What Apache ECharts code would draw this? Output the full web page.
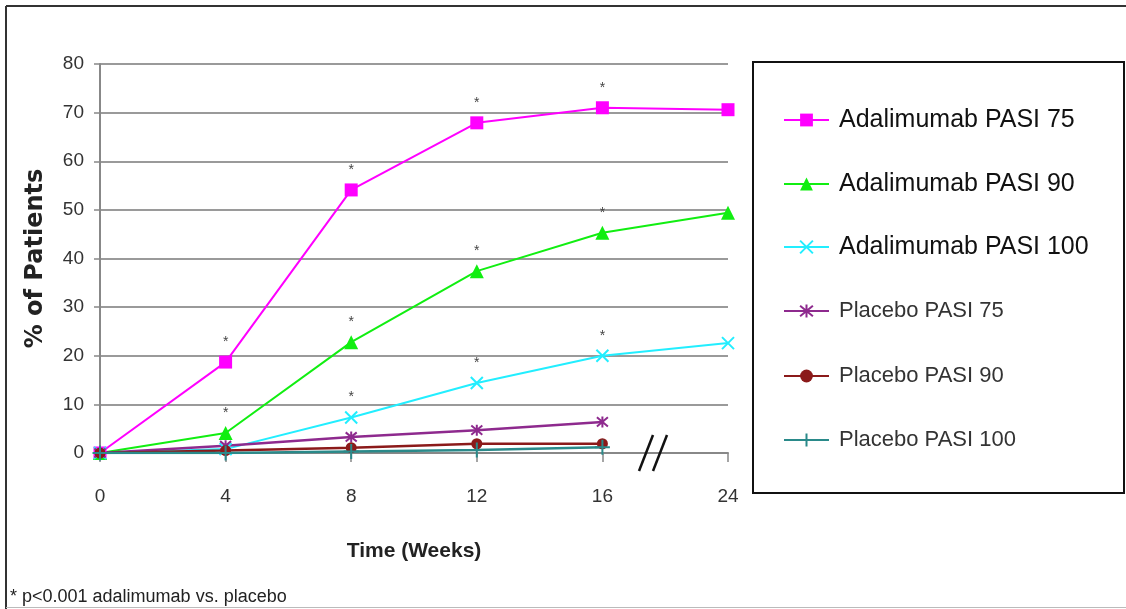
<!DOCTYPE html>
<html>
<head>
<meta charset="utf-8">
<script src="https://cdn.jsdelivr.net/npm/echarts@6/dist/echarts.min.js"></script>
<style>html,body{margin:0;padding:0;background:#fff;}#chart{width:1126px;height:609px;}</style>
</head>
<body>
<div id="chart"></div>
<script>
const categories = ['0', '4', '8', '12', '16', '24'];
const yTicks = [0, 10, 20, 30, 40, 50, 60, 70, 80];
const seriesNames = ['Adalimumab PASI 75', 'Adalimumab PASI 90', 'Adalimumab PASI 100',
                     'Placebo PASI 75', 'Placebo PASI 90', 'Placebo PASI 100'];
const adaPasi75  = [0, 18.7, 54.1, 67.9, 71.0, 70.6];
const adaPasi90  = [0, 4.1, 22.8, 37.4, 45.3, 49.4];
const adaPasi100 = [0, 0.8, 7.3, 14.4, 20.0, 22.6];
const plaPasi75  = [0, 1.5, 3.3, 4.7, 6.4, null];
const plaPasi90  = [0, 0.5, 1.1, 1.9, 1.9, null];
const plaPasi100 = [0, 0, 0.3, 0.6, 1.2, null];
// significance marks (* p<0.001) per time point
const star75  = [false, true, true, true, true, false];
const star90  = [false, true, true, true, true, false];
const star100 = [false, false, true, true, true, false];
const footnote = '* p<0.001 adalimumab vs. placebo';

const FONT = '"Liberation Sans", Arial, sans-serif';

function withStars(vals, stars) {
  return vals.map((v, i) => stars && stars[i] ? { value: v, label: { show: true } } : v);
}

const starLabel = {
  show: false, formatter: '*', position: 'top', distance: 6,
  fontSize: 14, color: '#444', fontFamily: FONT
};

const symX = 'path://M0,0L10,10M10,0L0,10';
const symAst = 'path://M0,0L10,10M10,0L0,10M5,-1L5,11';
const symPlus = 'path://M5,0L5,10M0,5L10,5';

function mkSeries(name, data, color, symbol, size, width, stroked) {
  return {
    name, type: 'line', data, symbol, symbolSize: size,
    lineStyle: { color, width },
    itemStyle: stroked ? { color, borderColor: color, borderWidth: 2 } : { color, borderWidth: 0 },
    label: starLabel,
    emphasis: { disabled: true },
    z: 2
  };
}

// one legend block per row so the rows keep the reference's even spacing
const legendRowCenters = [120, 184, 247, 311, 376, 440];
const legends = seriesNames.map((n, i) => {
  const big = i < 3;
  const fs = big ? 25 : 22;
  return {
    orient: 'vertical', left: 783, top: legendRowCenters[i] - fs / 2, padding: 0,
    itemWidth: 45, itemHeight: 16, data: [n], selectedMode: false,
    textStyle: { fontFamily: FONT, fontSize: fs, color: big ? '#111' : '#333', padding: [0, 0, 0, 5] }
  };
});

const chart = echarts.init(document.getElementById('chart'), null, { renderer: 'canvas' });
chart.setOption({
  backgroundColor: '#fff',
  animation: false,
  grid: { left: 100, right: 398, top: 64, bottom: 156 },
  legend: legends,
  xAxis: {
    type: 'category', data: categories, boundaryGap: false,
    name: 'Time (Weeks)', nameLocation: 'middle', nameGap: 88,
    nameTextStyle: { fontFamily: FONT, fontWeight: 'bold', fontSize: 21, color: '#222' },
    axisLine: { lineStyle: { color: '#888', width: 2 } },
    axisTick: { show: true, length: 9, lineStyle: { color: '#888', width: 1.5 } },
    axisLabel: { fontFamily: FONT, fontSize: 19, color: '#333', margin: 34 },
    splitLine: { show: false }
  },
  yAxis: {
    type: 'value', min: yTicks[0], max: yTicks[yTicks.length - 1], interval: 10,
    name: '% of Patients', nameLocation: 'middle', nameGap: 52, nameRotate: 90,
    nameTextStyle: { fontFamily: '"DejaVu Sans", sans-serif', fontWeight: 'bold', fontSize: 24, color: '#222' },
    axisLine: { show: true, lineStyle: { color: '#888', width: 2 } },
    axisTick: { show: true, length: 6, lineStyle: { color: '#888', width: 1.5 } },
    axisLabel: { fontFamily: FONT, fontSize: 19, color: '#333', margin: 16 },
    splitLine: { show: true, lineStyle: { color: '#9a9a9a', width: 2 } }
  },
  series: [
    mkSeries(seriesNames[0], withStars(adaPasi75, star75), '#ff00ff', 'rect', 13, 2, false),
    mkSeries(seriesNames[1], withStars(adaPasi90, star90), '#11ee11', 'triangle', 14, 2, false),
    mkSeries(seriesNames[2], withStars(adaPasi100, star100), '#22eeff', symX, 12, 2, true),
    mkSeries(seriesNames[3], withStars(plaPasi75, null), '#8e2a8e', symAst, 11, 2.5, true),
    mkSeries(seriesNames[4], withStars(plaPasi90, null), '#8b1a1a', 'circle', 11, 2.5, false),
    mkSeries(seriesNames[5], withStars(plaPasi100, null), '#2a8a8a', symPlus, 15, 2.5, true)
  ],
  graphic: [
    { type: 'line', shape: { x1: 6, y1: 6, x2: 6, y2: 609 }, style: { stroke: '#333', lineWidth: 2 } },
    { type: 'line', shape: { x1: 6, y1: 6, x2: 1126, y2: 6 }, style: { stroke: '#333', lineWidth: 2 } },
    { type: 'line', shape: { x1: 6, y1: 607.5, x2: 1126, y2: 607.5 }, style: { stroke: '#bbb', lineWidth: 1 } },
    { type: 'rect', shape: { x: 753, y: 62, width: 371, height: 431 }, style: { fill: 'none', stroke: '#111', lineWidth: 2 }, z: -1 },
    { type: 'line', shape: { x1: 639, y1: 471, x2: 653, y2: 435 }, style: { stroke: '#111', lineWidth: 2.5 }, z: 10 },
    { type: 'line', shape: { x1: 653, y1: 471, x2: 667, y2: 435 }, style: { stroke: '#111', lineWidth: 2.5 }, z: 10 },
    { type: 'text', left: 10, top: 588, style: { text: footnote, font: '18px ' + FONT, fill: '#222' } }
  ]
});
</script>
</body>
</html>
